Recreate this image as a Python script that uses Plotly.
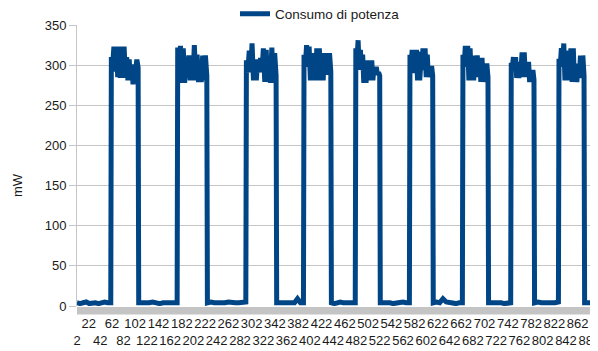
import plotly.graph_objects as go

series_name = "Consumo di potenza"
y_title = "mW"

x_first, x_last = 2, 896

# category index where each high-power pulse rises and falls
pulse_start = [61, 175, 293, 392, 481, 574, 665, 748, 830]
pulse_end = [107, 225, 344, 438, 522, 613, 708, 787, 873]

# readings (mW) inside each pulse, evenly spaced between rise and fall
pulse_values = [
    [310, 300, 323, 292, 323, 285, 316, 284, 323, 284, 323, 285, 310, 281, 307, 281, 301, 276, 301, 294, 307, 297],
    [322, 302, 324, 278, 321, 278, 306, 285, 312, 281, 312, 281, 325, 281, 313, 279, 304, 279, 312, 281, 312, 287],
    [306, 291, 318, 291, 327, 281, 304, 281, 307, 291, 309, 291, 321, 279, 319, 279, 298, 278, 322, 278, 315, 287],
    [313, 298, 325, 298, 323, 281, 306, 281, 315, 281, 321, 288, 321, 281, 315, 281, 315, 288, 315, 288, 315, 292],
    [321, 307, 331, 294, 319, 294, 313, 278, 304, 278, 306, 281, 306, 281, 306, 281, 298, 288, 298, 288, 291, 287],
    [313, 297, 319, 290, 319, 290, 319, 281, 317, 281, 301, 294, 321, 294, 321, 285, 313, 285, 299, 285, 299, 287],
    [313, 298, 324, 298, 324, 281, 321, 281, 302, 281, 312, 285, 312, 285, 309, 279, 309, 279, 302, 281, 302, 285],
    [303, 297, 310, 294, 310, 284, 304, 284, 304, 294, 316, 285, 316, 285, 304, 285, 304, 279, 294, 279, 294, 282],
    [308, 298, 321, 298, 327, 281, 318, 281, 309, 294, 321, 279, 321, 279, 302, 279, 302, 284, 312, 284, 312, 287],
]

# readings (mW) of the idle stretches before, between and after the pulses
low_values = [
    [4, 3, 4, 5, 3, 4, 4, 3, 4, 5, 4, 4],
    [4, 4, 3, 4, 5, 4, 3, 4, 4, 5, 4, 4],
    [4, 5, 4, 4, 3, 4, 5, 4, 4, 4, 5, 5],
    [4, 4, 5, 4, 4, 4, 4, 9, 4, 4],
    [4, 3, 4, 5, 4, 4, 3, 4, 4],
    [4, 4, 5, 4, 3, 4, 4, 5, 4, 4],
    [4, 5, 4, 9, 5, 4, 4, 3, 4, 4],
    [4, 4, 5, 4, 4, 3, 4, 4],
    [4, 5, 4, 4, 3, 4, 4, 5],
    [4, 4, 5, 4, 4],
]

tick_vals = list(range(2, 883, 20))
tick_text = [("<br>" + str(v)) if i % 2 == 0 else str(v) for i, v in enumerate(tick_vals)]


def spread(a, b, vals):
    n = len(vals)
    if n == 1:
        return [a]
    return [a + (b - a) * k / (n - 1) for k in range(n)]


xs, ys = [], []
bounds_lo = [x_first] + [e + 1 for e in pulse_end]
bounds_hi = [s - 1 for s in pulse_start] + [x_last]
for i in range(len(low_values)):
    xs += spread(bounds_lo[i], bounds_hi[i], low_values[i])
    ys += low_values[i]
    if i < len(pulse_values):
        xs += spread(pulse_start[i], pulse_end[i], pulse_values[i])
        ys += pulse_values[i]

font_family = "Liberation Sans, Arial, sans-serif"
grid_col = "#c6c6c6"

# the page body adds an 8px offset, so the figure is 8px smaller each way
W, H = 590, 343
L, T, B, R = 69, 17, 45, 0
plot_w = W - L - R
plot_h = H - T - B

fig = go.Figure()
fig.add_trace(go.Scatter(
    x=xs, y=ys, mode="lines", name=series_name,
    line=dict(color="#004586", width=5),
    showlegend=True,
))

fig.update_layout(
    width=W, height=H,
    margin=dict(l=L, r=R, t=T, b=B, autoexpand=False),
    paper_bgcolor="white", plot_bgcolor="white",
    font=dict(family=font_family, size=13, color="#1a1a1a"),
    showlegend=True,
    legend=dict(
        orientation="h", x=(227 - L) / plot_w, xanchor="left",
        y=1 + (T - 6) / plot_h, yanchor="middle",
        font=dict(size=13.5), bgcolor="rgba(0,0,0,0)",
    ),
    xaxis=dict(
        range=[x_first, 897], tickmode="array", tickvals=tick_vals, ticktext=tick_text,
        showgrid=False, zeroline=False, showline=False,
        ticks="outside", ticklen=5, tickcolor="rgba(0,0,0,0)",
        tickangle=0, tickfont=dict(size=13), ticklabeloverflow="allow",
    ),
    yaxis=dict(
        range=[0, 350], dtick=50, showgrid=True, gridcolor=grid_col, gridwidth=1,
        zeroline=False, showline=True, linecolor=grid_col, linewidth=1,
        ticks="outside", ticklen=7, tickcolor=grid_col, tickfont=dict(size=13),
    ),
    shapes=[dict(
        type="rect", xref="paper", yref="paper", x0=0, x1=1,
        y0=-8.5 / plot_h, y1=-1 / plot_h, fillcolor="#c4c4c4", line=dict(width=0),
        layer="below",
    )],
    annotations=[dict(
        text=y_title, xref="paper", yref="paper",
        x=(10 - L) / plot_w, y=(H - B - 177) / plot_h,
        xanchor="center", yanchor="middle", textangle=-90, showarrow=False,
        font=dict(size=13),
    )],
)

fig.write_html("out.html")
